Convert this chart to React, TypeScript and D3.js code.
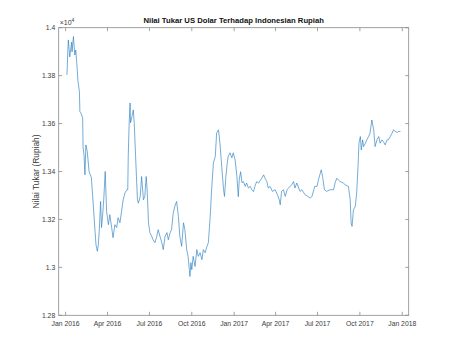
import React from 'react';
import * as d3 from 'd3';

// Kurs harian USD/IDR
const tanggal = [
  '2016-01-04', '2016-01-06', '2016-01-07', '2016-01-10', '2016-01-14', '2016-01-15', '2016-01-18', '2016-01-21',
  '2016-01-23', '2016-01-25', '2016-01-28', '2016-01-31', '2016-02-01', '2016-02-03', '2016-02-07', '2016-02-08',
  '2016-02-10', '2016-02-12', '2016-02-14', '2016-02-17', '2016-02-21', '2016-02-26', '2016-03-01', '2016-03-05',
  '2016-03-07', '2016-03-10', '2016-03-12', '2016-03-14', '2016-03-17', '2016-03-19', '2016-03-21', '2016-03-24',
  '2016-03-27', '2016-03-30', '2016-04-03', '2016-04-06', '2016-04-10', '2016-04-13', '2016-04-17', '2016-04-21',
  '2016-04-24', '2016-04-28', '2016-05-02', '2016-05-05', '2016-05-09', '2016-05-13', '2016-05-15', '2016-05-16',
  '2016-05-18', '2016-05-20', '2016-05-21', '2016-05-24', '2016-05-27', '2016-05-29', '2016-06-01', '2016-06-05',
  '2016-06-07', '2016-06-11', '2016-06-14', '2016-06-18', '2016-06-21', '2016-06-24', '2016-06-26', '2016-06-29',
  '2016-07-02', '2016-07-06', '2016-07-09', '2016-07-13', '2016-07-17', '2016-07-20', '2016-07-24', '2016-07-28',
  '2016-07-31', '2016-08-04', '2016-08-08', '2016-08-11', '2016-08-15', '2016-08-18', '2016-08-22', '2016-08-26',
  '2016-08-29', '2016-09-02', '2016-09-05', '2016-09-09', '2016-09-13', '2016-09-16', '2016-09-20', '2016-09-23',
  '2016-09-27', '2016-09-29', '2016-10-01', '2016-10-04', '2016-10-08', '2016-10-12', '2016-10-15', '2016-10-19',
  '2016-10-23', '2016-10-26', '2016-10-30', '2016-11-03', '2016-11-06', '2016-11-10', '2016-11-13', '2016-11-17',
  '2016-11-21', '2016-11-24', '2016-11-28', '2016-12-01', '2016-12-05', '2016-12-09', '2016-12-11', '2016-12-14',
  '2016-12-17', '2016-12-19', '2016-12-23', '2016-12-27', '2016-12-30',
  '2017-01-03', '2017-01-07', '2017-01-10', '2017-01-12', '2017-01-15', '2017-01-18', '2017-01-21', '2017-01-25',
  '2017-01-28', '2017-02-01', '2017-02-05', '2017-02-08', '2017-02-12', '2017-02-15', '2017-02-19', '2017-02-23',
  '2017-03-02', '2017-03-06', '2017-03-09', '2017-03-13', '2017-03-16', '2017-03-20', '2017-03-25', '2017-03-31',
  '2017-04-05', '2017-04-09', '2017-04-11', '2017-04-14', '2017-04-18', '2017-04-22', '2017-04-26', '2017-04-29',
  '2017-05-06', '2017-05-10', '2017-05-13', '2017-05-17', '2017-05-24', '2017-05-28', '2017-06-04', '2017-06-10',
  '2017-06-15', '2017-06-19', '2017-06-25', '2017-06-30', '2017-07-03', '2017-07-07', '2017-07-09', '2017-07-12',
  '2017-07-16', '2017-07-21', '2017-07-28', '2017-08-05', '2017-08-08', '2017-08-12', '2017-08-15', '2017-08-19',
  '2017-08-26', '2017-08-30', '2017-09-06', '2017-09-10', '2017-09-12', '2017-09-14', '2017-09-17', '2017-09-21',
  '2017-09-24', '2017-09-27', '2017-09-29', '2017-10-02', '2017-10-04', '2017-10-07', '2017-10-09', '2017-10-13',
  '2017-10-16', '2017-10-20', '2017-10-23', '2017-10-27', '2017-10-31', '2017-11-03', '2017-11-07', '2017-11-11',
  '2017-11-14', '2017-11-18', '2017-11-21', '2017-11-25', '2017-11-29', '2017-12-02', '2017-12-06', '2017-12-10',
  '2017-12-13', '2017-12-17', '2017-12-21', '2017-12-24', '2017-12-28',
];

const kurs = [
  13803, 13915, 13949, 13878, 13940, 13899, 13963, 13886,
  13907, 13858, 13775, 13733, 13650, 13645, 13624, 13499,
  13470, 13386, 13511, 13483, 13400, 13374, 13261, 13149,
  13094, 13067, 13094, 13150, 13275, 13166, 13207, 13290,
  13400, 13233, 13178, 13220, 13166, 13124, 13178, 13166,
  13207, 13186, 13240, 13282, 13311, 13324, 13324, 13463,
  13603, 13686, 13603, 13629, 13657, 13603, 13463, 13282,
  13268, 13296, 13379, 13282, 13296, 13379, 13324, 13186,
  13145, 13129, 13115, 13103, 13129, 13157, 13129, 13103,
  13074, 13129, 13145, 13115, 13145, 13157, 13230, 13260,
  13275, 13212, 13129, 13088, 13186, 13157, 13074, 13046,
  12962, 13020, 12990, 13046, 13004, 13074, 13046, 13061,
  13032, 13074, 13061, 13088, 13103, 13212, 13324, 13436,
  13463, 13561, 13574, 13520, 13421, 13324, 13296, 13379,
  13436, 13463, 13478, 13457, 13478,
  13449, 13379, 13295, 13365, 13399, 13353, 13358, 13338,
  13352, 13331, 13338, 13324, 13316, 13338, 13358, 13352,
  13372, 13386, 13372, 13358, 13331, 13338, 13317, 13324,
  13303, 13282, 13261, 13317, 13324, 13296, 13324, 13331,
  13345, 13358, 13331, 13352, 13317, 13324, 13303, 13296,
  13289, 13296, 13338, 13338, 13365, 13393, 13407, 13379,
  13324, 13317, 13324, 13324, 13352, 13372, 13365, 13358,
  13352, 13345, 13338, 13282, 13185, 13171, 13240, 13254,
  13310, 13421, 13518, 13546, 13490, 13532, 13504, 13518,
  13532, 13546, 13560, 13615, 13574, 13504, 13532, 13546,
  13518, 13532, 13525, 13511, 13532, 13532, 13546, 13560,
  13574, 13567, 13563, 13567, 13567,
];

const yTicks = [12800, 13000, 13200, 13400, 13600, 13800, 14000];
const xBatas = ['2015-12-17', '2018-01-15'];

const W = 452;
const H = 354;
const L = 58.7, R = 408.7, T = 27.7, B = 315.3;
const font = 'Liberation Sans, Arial, Helvetica, sans-serif';
const axisColor = '#8a8a8a';
const textColor = '#3a3a3a';

const parse = d3.utcParse('%Y-%m-%d');

const App = () => {
  const data = tanggal.map((t, i) => ({ date: parse(t) as Date, value: kurs[i] }));

  const x = d3.scaleUtc()
    .domain(xBatas.map(t => parse(t) as Date))
    .range([L, R]);
  const y = d3.scaleLinear()
    .domain([yTicks[0], yTicks[yTicks.length - 1]])
    .range([B, T]);

  const xTicks = x.ticks(d3.utcMonth.every(3) as any);
  const fmt = d3.utcFormat('%b %Y');

  const line = d3.line<{ date: Date; value: number }>()
    .x(d => x(d.date))
    .y(d => y(d.value));

  const tick = 3.5;

  return (
    <svg width={W} height={H} style={{ position: 'absolute', left: 0, top: 0, background: '#fff' }}>
      <rect x={0} y={0} width={W} height={H} fill="#fff" />
      <text x={(L + R) / 2} y={23} textAnchor="middle" fontFamily={font} fontWeight="bold"
        fontSize={7.7} fill="#111">Nilai Tukar US Dolar Terhadap Indonesian Rupiah</text>

      <path d={line(data) || ''} fill="none" stroke="#2a7fc0" strokeWidth={0.65} strokeLinejoin="round" />

      <rect x={L} y={T} width={R - L} height={B - T} fill="none" stroke={axisColor} strokeWidth={0.8} />

      {xTicks.map((t, i) => (
        <g key={'x' + i}>
          <line x1={x(t)} x2={x(t)} y1={B} y2={B - tick} stroke={axisColor} strokeWidth={0.8} />
          <line x1={x(t)} x2={x(t)} y1={T} y2={T + tick} stroke={axisColor} strokeWidth={0.8} />
          <text x={x(t)} y={326} textAnchor="middle" fontFamily={font} fontSize={6.8} fill={textColor}>{fmt(t)}</text>
        </g>
      ))}

      {yTicks.map((v, i) => (
        <g key={'y' + i}>
          <line x1={L} x2={L + tick} y1={y(v)} y2={y(v)} stroke={axisColor} strokeWidth={0.8} />
          <line x1={R} x2={R - tick} y1={y(v)} y2={y(v)} stroke={axisColor} strokeWidth={0.8} />
          <text x={L - 3.5} y={y(v) + 2.4} textAnchor="end" fontFamily={font} fontSize={6.8} fill={textColor}>
            {String(+(v / 1e4).toFixed(2))}
          </text>
        </g>
      ))}

      <text x={L + 1} y={24.5} fontFamily={font} fontSize={7} fill={textColor}>
        ×10<tspan dy={-3} fontSize={5}>4</tspan>
      </text>

      <text transform={`translate(38.5,${(T + B) / 2}) rotate(-90)`} textAnchor="middle"
        fontFamily={font} fontSize={8.4} fill={textColor}>Nilai Tukar (Rupiah)</text>
    </svg>
  );
};

export default App;
